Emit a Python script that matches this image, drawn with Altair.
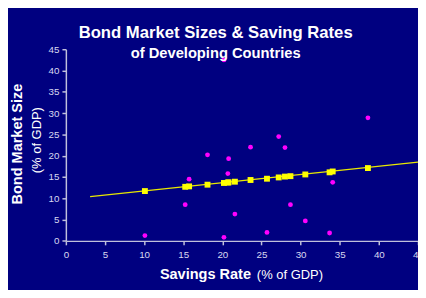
import altair as alt
import pandas as pd

# Scatter: countries (savings rate vs bond market size)
sav = [20.2, 38.6, 27.2, 23.6, 28.0, 18.1, 20.8, 20.7, 15.75, 34.1, 15.25, 28.7, 21.6, 30.6, 25.7, 33.7, 10.1, 20.2]
bond = [42.5, 28.9, 24.5, 22.0, 21.9, 20.2, 19.3, 15.8, 14.5, 13.75, 8.5, 8.5, 6.3, 4.7, 2.0, 1.85, 1.25, 0.85]

# Fitted values (yellow squares)
fit_x = [10.1, 15.25, 15.75, 18.1, 20.2, 20.7, 20.8, 21.6, 23.6, 25.7, 27.2, 28.0, 28.7, 30.6, 33.7, 34.1, 38.6]
fit_y = [11.7, 12.7, 12.8, 13.2, 13.6, 13.7, 13.75, 13.9, 14.3, 14.6, 14.9, 15.1, 15.2, 15.6, 16.1, 16.3, 17.1]

# Trend line end points
line_x = [3.1, 45]
line_y = [10.4, 18.5]

# Axis tick values
ticks = [0, 5, 10, 15, 20, 25, 30, 35, 40, 45]

pts = pd.DataFrame({"x": sav, "y": bond})
fit = pd.DataFrame({"x": fit_x, "y": fit_y})
line = pd.DataFrame({"x": line_x, "y": line_y})

FONT = "Liberation Sans"
xs = alt.Scale(domain=[0, 45], nice=False)
ys = alt.Scale(domain=[0, 45], nice=False)
xax = alt.Axis(values=ticks, title="", grid=False, tickSize=4,
               labelPadding=5, labelOverlap=False, labelFlush=False)
yax = alt.Axis(values=ticks, title="", grid=False, tickSize=4,
               labelPadding=3, labelOverlap=False, labelFlush=False)

X = alt.X("x:Q", scale=xs, axis=xax)
Y = alt.Y("y:Q", scale=ys, axis=yax)

base_line = alt.Chart(line).mark_line(color="#e8e800", strokeWidth=1.2).encode(x=X, y=Y)
sq = alt.Chart(fit).mark_square(color="#ffff00", opacity=1, size=36).encode(x=X, y=Y)
pk = alt.Chart(pts).mark_circle(color="#ff00ff", opacity=1, size=24).encode(x=X, y=Y)

def txt(s, x, y, size, bold=True, align="center", angle=0, baseline="alphabetic", color="white"):
    kw = dict(font=FONT, fontSize=size, fontWeight="bold" if bold else "normal",
              align=align, baseline=baseline, color=color)
    if angle:
        kw["angle"] = angle
    return alt.Chart(pd.DataFrame({"t": [s]})).mark_text(**kw).encode(
        text="t:N", x=alt.value(x), y=alt.value(y)
    )

t1 = txt("Bond Market Sizes & Saving Rates", 152.7, -11.6, 17)
t2 = txt("of Developing Countries", 152.7, 9.4, 15)
yt1 = txt("Bond Market Size", -48.8, 96.7, 14.8, angle=270, baseline="middle")
yt2 = txt("(% of GDP)", -29.8, 92.7, 13.2, bold=False, angle=270, baseline="middle")
xt1 = txt("Savings Rate", 188.7, 234.4, 14.8, align="right")
xt2 = txt("(% of GDP)", 194.7, 234.4, 13.2, bold=False, align="left")

chart = alt.layer(base_line, sq, pk, t1, t2, yt1, yt2, xt1, xt2).properties(
    width=359, height=195.4,
    autosize=alt.AutoSizeParams(type="none"),
    padding={"left": 59, "top": 39.3, "right": 0, "bottom": 47},
    background="#000080",
).configure_view(stroke=None).configure_axis(
    domainColor="#c0c0dc", tickColor="#c0c0dc", domainWidth=1.5, tickWidth=1.5,
    labelColor="#d8d8f0", labelFont=FONT, labelFontSize=10,
)

chart.save("out.html", embed_options={"renderer": "svg", "actions": False})
